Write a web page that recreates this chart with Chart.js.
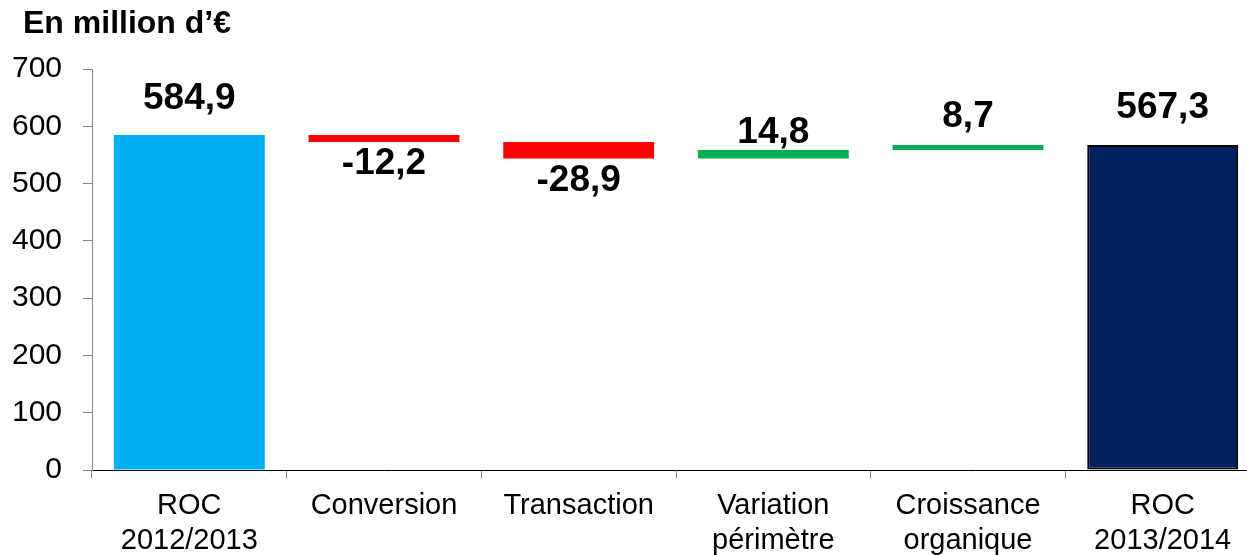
<!DOCTYPE html>
<html>
<head>
<meta charset="utf-8">
<script src="https://cdn.jsdelivr.net/npm/chart.js@4/dist/chart.umd.min.js"></script>
<style>
  html, body { margin: 0; padding: 0; overflow: hidden; background: #fff; }
  #wrap { width: 1247px; height: 555px; overflow: hidden; position: relative; }
  canvas { display: block; }
</style>
</head>
<body>
<div id="wrap"><canvas id="c" width="1260" height="555"></canvas></div>
<script>
// ---- data ----
const categories = [
  ["ROC", "2012/2013"],
  ["Conversion"],
  ["Transaction"],
  ["Variation", "périmètre"],
  ["Croissance", "organique"],
  ["ROC", "2013/2014"]
];
const values = [584.9, -12.2, -28.9, 14.8, 8.7, 567.3];
const isTotal = [true, false, false, false, false, true];
const yTicks = [0, 100, 200, 300, 400, 500, 600, 700];
const title = "En million d’€";

// ---- styles ----
const barColors = ['#00B0F0', '#FF0000', '#FF0000', '#00B050', '#00B050', '#002060'];
const barBorderWidths = [0, 0, 0, 0, 0, 2];
const labelGap = [26, 6, 7, 7, 18, 27];
const FONT = '"Liberation Sans", Arial, sans-serif';

// build floating ranges for waterfall
let running = 0;
const ranges = values.map((v, i) => {
  if (isTotal[i]) { running = v; return [0, v]; }
  const start = running;
  running = +(running + v).toFixed(1);
  return [start, running];
});

const labelPlugin = {
  id: 'valueLabels',
  afterDatasetsDraw(chart) {
    const ctx = chart.ctx;
    const meta = chart.getDatasetMeta(0);
    ctx.save();
    ctx.font = 'bold 37px ' + FONT;
    ctx.fillStyle = '#000';
    ctx.textAlign = 'center';
    ctx.textBaseline = 'alphabetic';
    meta.data.forEach((el, i) => {
      const v = values[i];
      const txt = v.toFixed(1).replace('.', ',');
      const top = Math.min(el.y, el.base);
      const bottom = Math.max(el.y, el.base);
      if (v >= 0) {
        ctx.fillText(txt, el.x, top - labelGap[i]);
      } else {
        ctx.fillText(txt, el.x, bottom + labelGap[i] + 26);
      }
    });
    ctx.restore();
  }
};

const titlePlugin = {
  id: 'topTitle',
  afterDraw(chart) {
    const ctx = chart.ctx;
    ctx.save();
    ctx.font = 'bold 32px ' + FONT;
    ctx.fillStyle = '#000';
    ctx.textAlign = 'left';
    ctx.textBaseline = 'alphabetic';
    ctx.fillText(title, 23, 33);
    ctx.restore();
  }
};

new Chart(document.getElementById('c'), {
  type: 'bar',
  data: {
    labels: categories,
    datasets: [{
      data: ranges,
      backgroundColor: barColors,
      borderColor: '#000000',
      borderWidth: barBorderWidths,
      borderSkipped: false,
      categoryPercentage: 1,
      barPercentage: 0.775
    }]
  },
  options: {
    responsive: false,
    animation: false,
    devicePixelRatio: 1,
    layout: { padding: { top: 69, left: 0, right: 0, bottom: 0 } },
    plugins: {
      legend: { display: false },
      tooltip: { enabled: false },
      title: { display: false }
    },
    scales: {
      x: {
        grid: {
          offset: true,
          drawOnChartArea: false,
          drawTicks: true,
          tickLength: 8,
          color: '#868686'
        },
        border: { display: true, color: '#000000', width: 1 },
        ticks: {
          color: '#000',
          font: { family: FONT, size: 29, lineHeight: 1.2 },
          padding: 11,
          maxRotation: 0,
          autoSkip: false
        },
        afterFit(scale) { scale.height = 85; }
      },
      y: {
        min: 0,
        max: 700,
        afterBuildTicks(scale) { scale.ticks = yTicks.map(v => ({ value: v })); },
        grid: {
          drawOnChartArea: false,
          drawTicks: true,
          tickLength: 9,
          color: '#868686'
        },
        border: { display: true, color: '#868686', width: 1 },
        ticks: {
          color: '#000',
          font: { family: FONT, size: 30 },
          padding: 21
        },
        afterFit(scale) { scale.width = 92; }
      }
    }
  },
  plugins: [labelPlugin, titlePlugin]
});
</script>
</body>
</html>
